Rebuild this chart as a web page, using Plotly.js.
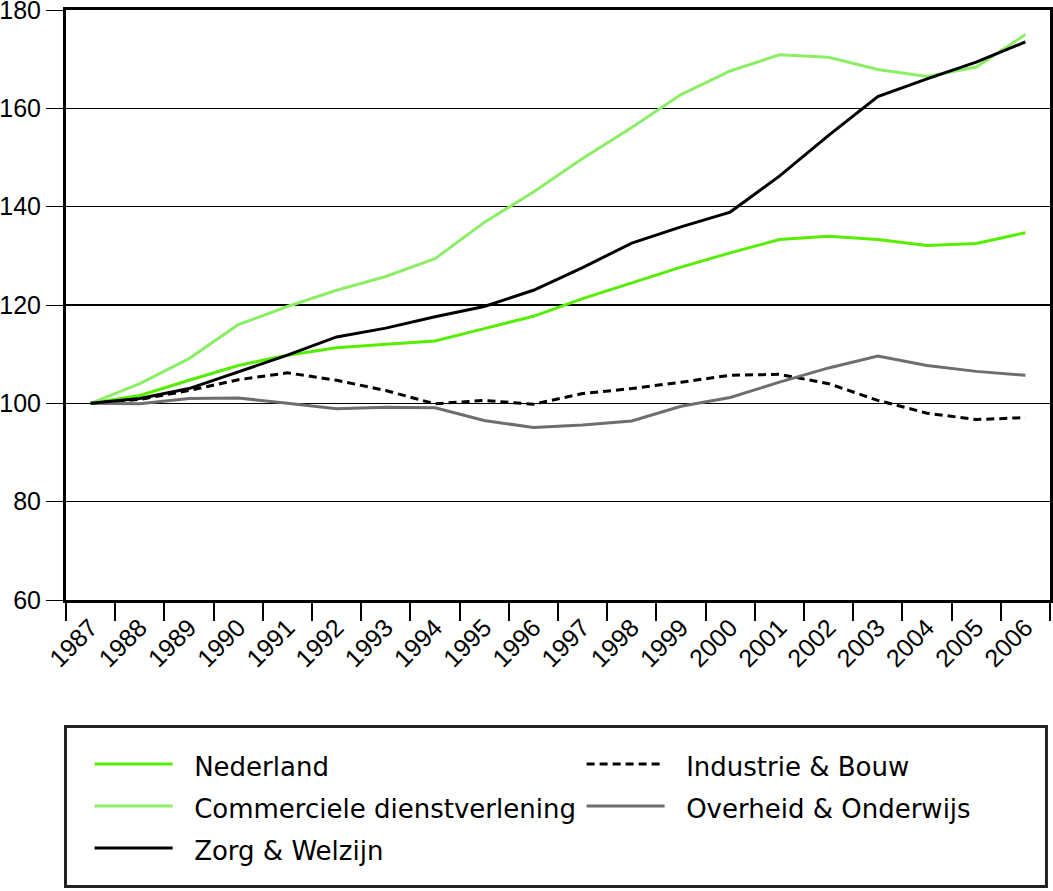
<!DOCTYPE html>
<html>
<head>
<meta charset="utf-8">
<script src="https://cdn.plot.ly/plotly-3.0.1.min.js"></script>
<style>
  html, body { margin: 0; padding: 0; background: #fff; }
  #chart { width: 1053px; height: 891px; }
</style>
</head>
<body>
<div id="chart"></div>
<script>
// index values, 1987 = 100
const years = ['1987', '1988', '1989', '1990', '1991', '1992', '1993', '1994', '1995', '1996',
               '1997', '1998', '1999', '2000', '2001', '2002', '2003', '2004', '2005', '2006'];
const nederland   = [100, 101.6, 104.7, 107.7, 109.8, 111.3, 112.0, 112.7, 115.2, 117.7,
                     121.3, 124.5, 127.7, 130.6, 133.3, 134.0, 133.3, 132.1, 132.5, 134.7];
const commercieel = [100, 104.0, 109.1, 116.0, 119.7, 123.0, 125.8, 129.4, 136.8, 143.0,
                     149.8, 156.1, 162.8, 167.6, 170.9, 170.4, 167.9, 166.5, 168.4, 175.0];
const zorg        = [100, 101.0, 103.0, 106.4, 109.8, 113.5, 115.3, 117.6, 119.7, 123.0,
                     127.6, 132.6, 135.9, 138.9, 146.2, 154.5, 162.4, 166.0, 169.4, 173.5];
const industrie   = [100, 100.8, 102.6, 104.8, 106.2, 104.7, 102.6, 99.9, 100.6, 99.8,
                     102.0, 103.0, 104.3, 105.7, 105.9, 104.0, 100.6, 98.0, 96.7, 97.1];
const overheid    = [100, 99.9, 101.0, 101.1, 100.0, 98.9, 99.2, 99.1, 96.5, 95.1,
                     95.6, 96.4, 99.4, 101.2, 104.3, 107.2, 109.6, 107.7, 106.5, 105.7];
const yTicks = [60, 80, 100, 120, 140, 160, 180];

// legend text: small span so the rows get the taller spacing of the 30px legend font
function lbl(s) {
    return '<span style="font-size:26px">\u00a0\u00a0' + s + '</span>';
}

function line(name, y, color, dash) {
    return {
        x: years, y: y, name: lbl(name),
        type: 'scatter', mode: 'lines',
        line: {color: color, width: 3, dash: dash || 'solid'},
        hoverinfo: 'x+y'
    };
}

const data = [
    line('Nederland', nederland, '#55ee00'),
    line('Industrie &amp; Bouw', industrie, '#000000', '8px,5px'),
    line('Commerciele dienstverlening', commercieel, '#8cee66'),
    line('Overheid &amp; Onderwijs', overheid, '#6e6e6e'),
    line('Zorg &amp; Welzijn', zorg, '#000000')
];

const tickFont = {family: 'Liberation Sans', size: 25, color: '#000'};

const layout = {
    width: 1053, height: 891,
    margin: {l: 66, r: 3, t: 10, b: 291, autoexpand: false},
    paper_bgcolor: '#fff', plot_bgcolor: '#fff',
    font: {family: 'DejaVu Sans', size: 24, color: '#000'},
    showlegend: true,
    xaxis: {
        type: 'category',
        range: [-0.5, 19.5],
        tickson: 'boundaries',
        ticks: 'outside', ticklen: 18, tickwidth: 2, tickcolor: '#000',
        tickangle: -45,
        showline: true, linewidth: 3, linecolor: '#000', mirror: true,
        showgrid: false, zeroline: false,
        tickfont: tickFont
    },
    yaxis: {
        range: [60, 180],
        tickvals: yTicks,
        ticks: 'outside', ticklen: 17, tickwidth: 1, tickcolor: '#000',
        showline: true, linewidth: 3, linecolor: '#000', mirror: true,
        showgrid: true, gridcolor: '#000', gridwidth: 1.2,
        zeroline: false,
        ticklabeloverflow: 'allow',
        tickfont: tickFont
    },
    legend: {
        orientation: 'h',
        x: 0.024, xanchor: 'left',
        y: -0.234, yanchor: 'top',
        itemwidth: 78,
        entrywidth: 399,
        font: {family: 'DejaVu Sans', size: 30, color: '#000'},
        bgcolor: 'rgba(0,0,0,0)',
        borderwidth: 0
    },
    shapes: [{
        type: 'rect', xref: 'paper', yref: 'paper',
        x0: -0.0005, x1: 0.9964, y0: -0.2144, y1: -0.4856,
        line: {color: '#222', width: 3}
    }]
};

Plotly.newPlot('chart', data, layout, {staticPlot: true});
</script>
</body>
</html>
